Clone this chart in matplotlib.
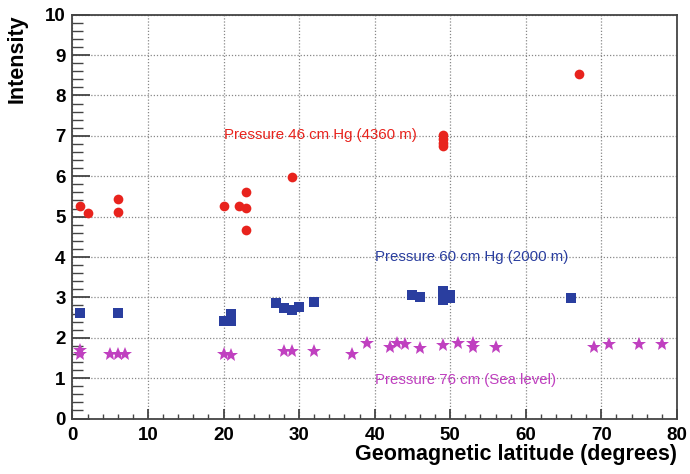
import numpy as np
import matplotlib
matplotlib.use("Agg")
import matplotlib.pyplot as plt
from matplotlib.ticker import MultipleLocator

plt.rcParams['font.family'] = ['Liberation Sans', 'DejaVu Sans']

# 46 cm Hg (4360 m) - red circles
lat_46 = [1, 2, 6, 6, 20, 22, 23, 23, 23, 29, 49, 49, 49, 49, 67]
int_46 = [5.26, 5.09, 5.44, 5.11, 5.27, 5.27, 5.62, 5.22, 4.66, 5.99, 7.03, 6.92, 6.82, 6.74, 8.54]

# 60 cm Hg (2000 m) - blue squares
lat_60 = [1, 6, 20, 21, 21, 27, 28, 29, 30, 32, 45, 46, 49, 49, 49, 50, 50, 66]
int_60 = [2.62, 2.62, 2.42, 2.42, 2.58, 2.85, 2.74, 2.69, 2.77, 2.89, 3.06, 3.02, 3.16, 3.02, 2.93, 3.05, 2.98, 2.99]

# 76 cm (sea level) - magenta stars
lat_76 = [1, 1, 5, 6, 7, 20, 21, 28, 29, 32, 37, 39, 42, 43, 44, 46, 49, 51, 53, 53, 56, 69, 71, 75, 78]
int_76 = [1.61, 1.69, 1.59, 1.61, 1.61, 1.61, 1.57, 1.67, 1.67, 1.67, 1.61, 1.86, 1.78, 1.86, 1.84, 1.74, 1.82, 1.86, 1.86, 1.76, 1.78, 1.78, 1.84, 1.84, 1.84]

red = '#e8231d'
blue = '#2a3e9f'
magenta = '#c040c0'

fig = plt.figure(figsize=(6.9, 4.74), dpi=100)
ax = fig.add_axes([0.105, 0.117, 0.876, 0.852])

ax.plot(lat_46, int_46, 'o', color=red, markersize=7, markeredgewidth=0)
ax.plot(lat_60, int_60, 's', color=blue, markersize=7.5, markeredgewidth=0)
ax.plot(lat_76, int_76, '*', color=magenta, markersize=10, markeredgewidth=0)

ax.text(20, 7.02, 'Pressure 46 cm Hg (4360 m)', color=red, fontsize=10.8, va='center')
ax.text(40, 4.0, 'Pressure 60 cm Hg (2000 m)', color=blue, fontsize=10.8, va='center')
ax.text(40, 0.95, 'Pressure 76 cm (Sea level)', color=magenta, fontsize=10.8, va='center')

ax.set_xlim(0, 80)
ax.set_ylim(0, 10)
ax.xaxis.set_major_locator(MultipleLocator(10))
ax.xaxis.set_minor_locator(MultipleLocator(2))
ax.yaxis.set_major_locator(MultipleLocator(1))
ax.yaxis.set_minor_locator(MultipleLocator(0.2))

ax.grid(True, which='major', linestyle=(0, (1, 1.5)), color='#888888', linewidth=0.9)
ax.set_axisbelow(True)

ax.tick_params(which='both', direction='in', top=False, right=False, color='#444444')
ax.tick_params(which='major', width=1.3, labelsize=13.5)
ax.tick_params(axis='x', which='major', length=7, pad=6)
ax.tick_params(axis='x', which='minor', length=3.6, width=1.0)
ax.tick_params(axis='y', which='major', length=13, pad=5)
ax.tick_params(axis='y', which='minor', length=8, width=1.0)
for lab in ax.get_xticklabels() + ax.get_yticklabels():
    lab.set_fontweight('bold')

for s in ax.spines.values():
    s.set_color('#444444')
    s.set_linewidth(1.3)

ax.set_xlabel('Geomagnetic latitude (degrees)', fontsize=15.5, fontweight='bold', loc='right', labelpad=0)
ax.set_ylabel('Intensity', fontsize=15.5, fontweight='bold', loc='top', labelpad=12)

fig.savefig('out.png', dpi=100)
